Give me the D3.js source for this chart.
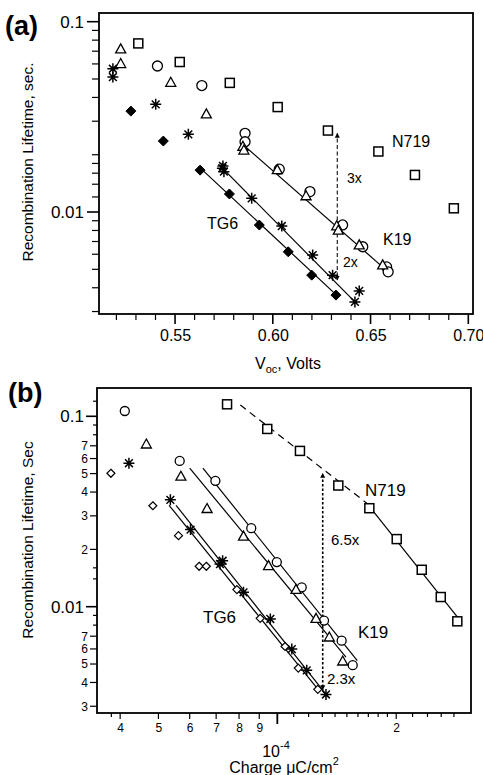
<!DOCTYPE html>
<html><head><meta charset="utf-8">
<script src="https://cdn.jsdelivr.net/npm/d3@7"></script>
<style>
html,body{margin:0;padding:0;background:#fff;}
svg text{font-family:"Liberation Sans",Arial,sans-serif;fill:#000;}
</style></head>
<body>
<svg id="chart" width="483" height="775"></svg>
<script>
// ---------- Panel (a) data: Voc (V) vs lifetime (s) ----------
const aN719Voc = [0.5312,0.5524,0.578,0.6025,0.6282,0.654,0.6727,0.6926];
const aN719Tau = [0.0769,0.0614,0.0477,0.0356,0.0268,0.0208,0.01566,0.01046];
const aTriVoc = [0.5222,0.5222,0.5478,0.566,0.5847,0.5852,0.6023,0.617,0.6327,0.6335,0.6442,0.6562];
const aTriTau = [0.0718,0.0601,0.0479,0.0327,0.0221,0.0211,0.01664,0.01214,0.00844,0.0080,0.0067,0.00526];
const aCirVoc = [0.541,0.5637,0.5858,0.5858,0.6033,0.619,0.6357,0.646,0.6582,0.659];
const aCirTau = [0.0585,0.0462,0.0259,0.0234,0.0168,0.0128,0.00855,0.00657,0.00515,0.00485];
const aStarVoc = [0.5182,0.5182,0.5401,0.5568,0.5745,0.5742,0.575,0.5892,0.6046,0.6204,0.6306,0.6442,0.642];
const aStarTau = [0.0566,0.0512,0.0368,0.0256,0.01746,0.0170,0.0163,0.0118,0.00844,0.00594,0.00466,0.00385,0.00337];
const aDiaVoc = [0.5274,0.544,0.5628,0.5778,0.5931,0.6079,0.6199,0.6323];
const aDiaTau = [0.0339,0.0236,0.0166,0.01244,0.00854,0.00618,0.00466,0.00366];
// fit lines [x0,y0,x1,y1]
const aFitK19 = [0.585,0.0225,0.659,0.00485];
const aFitStar = [0.5745,0.0169,0.642,0.00337];
const aFitTG6 = [0.5635,0.0168,0.6326,0.00366];
const aArrowX = 0.633, aArrowTop = 0.0259, aArrowMid = 0.00834, aArrowBot = 0.00439;
const aXTickMajor = [0.55,0.60,0.65,0.70];
const aXTickMinor = [0.52,0.53,0.54,0.56,0.57,0.58,0.59,0.61,0.62,0.63,0.64,0.66,0.67,0.68,0.69];
const aYTickMajor = [0.1,0.01];
const aYTickMinor = [0.09,0.08,0.07,0.06,0.05,0.04,0.03,0.02,0.018,0.016,0.014,0.012,0.009,0.008,0.007,0.006,0.005,0.004,0.003];

// ---------- Panel (b) data: charge vs lifetime ----------
const bN719Q = [0.746e-4,0.943e-4,1.141e-4,1.427e-4,1.710e-4,2.006e-4,2.321e-4,2.593e-4,2.856e-4];
const bN719Tau = [0.1156,0.0858,0.0658,0.0433,0.0329,0.02265,0.01563,0.01124,0.00838];
const bCirQ = [0.411e-4,0.566e-4,0.697e-4,0.859e-4,0.997e-4,1.153e-4,1.313e-4,1.455e-4,1.552e-4];
const bCirTau = [0.1066,0.0583,0.0458,0.02586,0.01716,0.01264,0.00845,0.00663,0.00493];
const bTriQ = [0.466e-4,0.570e-4,0.664e-4,0.821e-4,0.950e-4,1.115e-4,1.253e-4,1.354e-4,1.464e-4];
const bTriTau = [0.0713,0.0483,0.0327,0.0234,0.01639,0.01228,0.00865,0.00691,0.00517];
const bStarQ = [0.421e-4,0.536e-4,0.603e-4,0.727e-4,0.716e-4,0.821e-4,0.960e-4,1.088e-4,1.187e-4,1.328e-4];
const bStarTau = [0.0567,0.0364,0.0254,0.01743,0.01675,0.0119,0.00862,0.00599,0.00463,0.00346];
const bDiaQ = [0.379e-4,0.484e-4,0.562e-4,0.634e-4,0.661e-4,0.790e-4,0.905e-4,1.046e-4,1.130e-4,1.266e-4];
const bDiaTau = [0.0502,0.0339,0.0236,0.0163,0.0163,0.0123,0.00869,0.00618,0.00476,0.00368];
const bFitN719Dash = [0.806e-4,0.1146,1.684e-4,0.035];
const bFitN719 = [1.684e-4,0.035,2.872e-4,0.00872];
const bFitCir = [0.648e-4,0.0534,1.594e-4,0.00521];
const bFitTri = [0.600e-4,0.0534,1.492e-4,0.00543];
const bFitStar = [0.554e-4,0.0341,1.344e-4,0.00336];
const bFitDia = [0.532e-4,0.0341,1.283e-4,0.00357];
const bArrowX = 1.303e-4, bArrowTop = 0.0502, bArrowMid = 0.00792, bArrowBot = 0.00366;
const bXTickMajor = [1e-4];
const bXTickLabeled = [4e-5,5e-5,6e-5,7e-5,8e-5,9e-5,2e-4];
const bXTickLabels = ["4","5","6","7","8","9","2"];
const bXTickMinor = [3.8e-5,1.1e-4,1.2e-4,1.3e-4,1.4e-4,1.5e-4,1.6e-4,1.7e-4,1.8e-4,1.9e-4,2.2e-4,2.4e-4,2.6e-4,2.8e-4];
const bYTickMajor = [0.1,0.01];
const bYTickLabeled = [0.07,0.06,0.05,0.04,0.03,0.02,0.007,0.006,0.005,0.004,0.003];
const bYTickLabels = ["7","6","5","4","3","2","7","6","5","4","3"];
const bYTickMinor = [0.12,0.09,0.08,0.016,0.014,0.009,0.008];

const svg = d3.select("#chart");
const FONT = '"Liberation Sans",Arial,sans-serif';

// arrow markers
const defs = svg.append("defs");
defs.append("marker").attr("id","ah").attr("viewBox","0 0 10 10").attr("refX",9).attr("refY",5)
  .attr("markerWidth",5).attr("markerHeight",7).attr("markerUnits","userSpaceOnUse").attr("orient","auto")
  .append("path").attr("d","M0,0L10,5L0,10Z").attr("fill","#000");

function drawSymbols(g, xs, ys, sx, sy, type, size) {
  const data = xs.map((v,i)=>[v, ys[i]]);
  const sel = g.append("g");
  data.forEach(d=>{
    const x = sx(d[0]), y = sy(d[1]);
    const h = size/2;
    if (type==="square") {
      sel.append("rect").attr("x",x-h).attr("y",y-h).attr("width",size).attr("height",size)
        .attr("fill","#fff").attr("stroke","#000").attr("stroke-width",1.5);
    } else if (type==="circle") {
      sel.append("circle").attr("cx",x).attr("cy",y).attr("r",h)
        .attr("fill","#fff").attr("stroke","#000").attr("stroke-width",1.3);
    } else if (type==="triangle") {
      sel.append("path").attr("d",`M${x},${y-h*1.05}L${x+h},${y+h*0.75}L${x-h},${y+h*0.75}Z`)
        .attr("fill","#fff").attr("stroke","#000").attr("stroke-width",1.3);
    } else if (type==="star") {
      const p = [];
      for (let k=0;k<4;k++){ const a=k*Math.PI/4; p.push(`M${x-h*Math.cos(a)},${y-h*Math.sin(a)}L${x+h*Math.cos(a)},${y+h*Math.sin(a)}`); }
      sel.append("path").attr("d",p.join("")).attr("stroke","#000").attr("stroke-width",1.5).attr("fill","none");
    } else if (type==="diamondFilled") {
      sel.append("path").attr("d",`M${x},${y-h}L${x+h},${y}L${x},${y+h}L${x-h},${y}Z`)
        .attr("fill","#000").attr("stroke","#000").attr("stroke-width",1);
    } else if (type==="diamondOpen") {
      sel.append("path").attr("d",`M${x},${y-h}L${x+h},${y}L${x},${y+h}L${x-h},${y}Z`)
        .attr("fill","#fff").attr("stroke","#000").attr("stroke-width",1.2);
    }
  });
}
function fitLine(g, f, sx, sy, dash) {
  g.append("line").attr("x1",sx(f[0])).attr("y1",sy(f[1])).attr("x2",sx(f[2])).attr("y2",sy(f[3]))
    .attr("stroke","#000").attr("stroke-width",1.2).attr("stroke-dasharray",dash||null);
}
function ticks(g, vals, scale, orient, len, x0, y0, width) {
  vals.forEach(v=>{
    if (orient==="left") {
      g.append("line").attr("x1",x0-len).attr("x2",x0).attr("y1",scale(v)).attr("y2",scale(v))
        .attr("stroke","#000").attr("stroke-width",width||1.2);
    } else {
      g.append("line").attr("y1",y0).attr("y2",y0+len).attr("x1",scale(v)).attr("x2",scale(v))
        .attr("stroke","#000").attr("stroke-width",width||1.2);
    }
  });
}

// ================= Panel (a) =================
{
  const L=99, R=473, T=13, B=314;
  const x = d3.scaleLinear().domain([0.5111,0.7024]).range([L,R]);
  const y = d3.scaleLog().domain([0.002912,0.1111]).range([B,T]);
  const g = svg.append("g");
  ticks(g, aXTickMinor, x, "bottom", 6, L, B);
  ticks(g, aXTickMajor.filter(v=>x(v)<R-1), x, "bottom", 10, L, B, 1.6);
  ticks(g, aYTickMinor, y, "left", 7, L, B);
  ticks(g, aYTickMajor, y, "left", 12, L, B, 1.6);
  const xa = d3.axisBottom(x).tickValues(aXTickMajor).tickFormat(d3.format(".2f")).tickSize(0).tickPadding(0);
  const gx = g.append("g").attr("transform",`translate(0,${B+16})`).call(xa);
  gx.select(".domain").remove();
  gx.selectAll("text").attr("font-size",16).attr("font-family",FONT).attr("dy","0.71em");
  const ya = d3.axisLeft(y).tickValues(aYTickMajor).tickFormat(d=>d===0.1?"0.1":"0.01").tickSize(0).tickPadding(0);
  const gy = g.append("g").attr("transform",`translate(${L-15},0)`).call(ya);
  gy.select(".domain").remove();
  gy.selectAll("text").attr("font-size",17).attr("font-family",FONT);
  g.append("rect").attr("x",L).attr("y",T).attr("width",R-L).attr("height",B-T)
    .attr("fill","none").attr("stroke","#000").attr("stroke-width",1.8);
  fitLine(g, aFitK19, x, y); fitLine(g, aFitStar, x, y); fitLine(g, aFitTG6, x, y);
  g.append("line").attr("x1",x(aArrowX)).attr("x2",x(aArrowX)).attr("y1",y(aArrowMid)).attr("y2",y(aArrowTop))
    .attr("stroke","#333").attr("stroke-width",1.3).attr("stroke-dasharray","4,2.5").attr("marker-end","url(#ah)");
  g.append("line").attr("x1",x(aArrowX)).attr("x2",x(aArrowX)).attr("y1",y(aArrowMid)).attr("y2",y(aArrowBot))
    .attr("stroke","#333").attr("stroke-width",1.3).attr("stroke-dasharray","4,2.5").attr("marker-end","url(#ah)");
  drawSymbols(g, aN719Voc, aN719Tau, x, y, "square", 9);
  drawSymbols(g, aCirVoc, aCirTau, x, y, "circle", 10);
  drawSymbols(g, aTriVoc, aTriTau, x, y, "triangle", 10);
  drawSymbols(g, aStarVoc, aStarTau, x, y, "star", 11);
  drawSymbols(g, aDiaVoc, aDiaTau, x, y, "diamondFilled", 10);
  const t = (txt, xx, yy, fs) => g.append("text").attr("x",xx).attr("y",yy).attr("font-size",fs).text(txt);
  t("N719", 392, 147, 16);
  t("K19", 383, 245, 16);
  t("TG6", 207, 229, 16);
  t("3x", 347, 183, 14);
  t("2x", 343, 267, 14);
  const xt = g.append("text").attr("x",288).attr("y",369).attr("text-anchor","middle").attr("font-size",16);
  xt.append("tspan").text("V");
  xt.append("tspan").attr("font-size",11).attr("dy",4).text("oc");
  xt.append("tspan").attr("dy",-4).text(", Volts");
  g.append("text").attr("transform",`translate(33,162) rotate(-90)`).attr("text-anchor","middle")
    .attr("font-size",15.5).text("Recombination Lifetime, sec.");
  g.append("text").attr("x",5).attr("y",35).attr("font-size",27).attr("font-weight","bold").text("(a)");
}

// ================= Panel (b) =================
{
  const L=97, R=471, T=388, B=713;
  const x = d3.scaleLog().domain([3.495e-5,3.093e-4]).range([L,R]);
  const y = d3.scaleLog().domain([0.002765,0.1408]).range([B,T]);
  const g = svg.append("g");
  ticks(g, bXTickMinor, x, "bottom", 4, L, B);
  ticks(g, bXTickLabeled, x, "bottom", 6, L, B);
  ticks(g, bXTickMajor, x, "bottom", 11, L, B, 1.8);
  ticks(g, bYTickMinor, y, "left", 4, L, B);
  ticks(g, bYTickLabeled, y, "left", 7, L, B);
  ticks(g, bYTickMajor, y, "left", 11, L, B, 1.6);
  const xa = d3.axisBottom(x).tickValues(bXTickLabeled).tickFormat((d,i)=>bXTickLabels[i]).tickSize(0).tickPadding(0);
  const gx = g.append("g").attr("transform",`translate(0,${B+10})`).call(xa);
  gx.select(".domain").remove();
  gx.selectAll("text").attr("font-size",12).attr("font-family",FONT).attr("dy","0.71em");
  const ya = d3.axisLeft(y).tickValues(bYTickLabeled).tickFormat((d,i)=>bYTickLabels[i]).tickSize(0).tickPadding(0);
  const gy = g.append("g").attr("transform",`translate(${L-9},0)`).call(ya);
  gy.select(".domain").remove();
  gy.selectAll("text").attr("font-size",12).attr("font-family",FONT);
  const ya2 = d3.axisLeft(y).tickValues(bYTickMajor).tickFormat(d=>d===0.1?"0.1":"0.01").tickSize(0).tickPadding(0);
  const gy2 = g.append("g").attr("transform",`translate(${L-13},0)`).call(ya2);
  gy2.select(".domain").remove();
  gy2.selectAll("text").attr("font-size",17).attr("font-family",FONT);
  g.append("rect").attr("x",L).attr("y",T).attr("width",R-L).attr("height",B-T)
    .attr("fill","none").attr("stroke","#000").attr("stroke-width",1.8);
  fitLine(g, bFitN719Dash, x, y, "7,5");
  fitLine(g, bFitN719, x, y);
  fitLine(g, bFitCir, x, y); fitLine(g, bFitTri, x, y);
  fitLine(g, bFitStar, x, y); fitLine(g, bFitDia, x, y);
  g.append("line").attr("x1",x(bArrowX)).attr("x2",x(bArrowX)).attr("y1",y(bArrowMid)).attr("y2",y(bArrowTop))
    .attr("stroke","#000").attr("stroke-width",1.6).attr("stroke-dasharray","2.5,2").attr("marker-end","url(#ah)");
  g.append("line").attr("x1",x(bArrowX)).attr("x2",x(bArrowX)).attr("y1",y(bArrowMid)).attr("y2",y(bArrowBot))
    .attr("stroke","#000").attr("stroke-width",1.6).attr("stroke-dasharray","2.5,2").attr("marker-end","url(#ah)");
  drawSymbols(g, bN719Q, bN719Tau, x, y, "square", 9);
  drawSymbols(g, bCirQ, bCirTau, x, y, "circle", 9);
  drawSymbols(g, bTriQ, bTriTau, x, y, "triangle", 10);
  drawSymbols(g, bStarQ, bStarTau, x, y, "star", 11);
  drawSymbols(g, bDiaQ, bDiaTau, x, y, "diamondOpen", 8);
  const t = (txt, xx, yy, fs) => g.append("text").attr("x",xx).attr("y",yy).attr("font-size",fs).text(txt);
  t("N719", 365, 496, 17);
  t("K19", 358, 638, 17);
  t("TG6", 203, 623, 17);
  t("6.5x", 331, 545, 15);
  t("2.3x", 327, 684, 15);
  const et = g.append("text").attr("x",276).attr("y",757).attr("text-anchor","middle").attr("font-size",16);
  et.append("tspan").text("10");
  et.append("tspan").attr("font-size",11).attr("dy",-8).text("-4");
  const ct = g.append("text").attr("x",284).attr("y",773).attr("text-anchor","middle").attr("font-size",16);
  ct.append("tspan").text("Charge \u03bcC/cm");
  ct.append("tspan").attr("font-size",11).attr("dy",-8).text("2");
  g.append("text").attr("transform",`translate(33,540) rotate(-90)`).attr("text-anchor","middle")
    .attr("font-size",15.5).text("Recombination Lifetime, Sec");
  g.append("text").attr("x",8).attr("y",402).attr("font-size",27).attr("font-weight","bold").text("(b)");
}
</script>
</body></html>
